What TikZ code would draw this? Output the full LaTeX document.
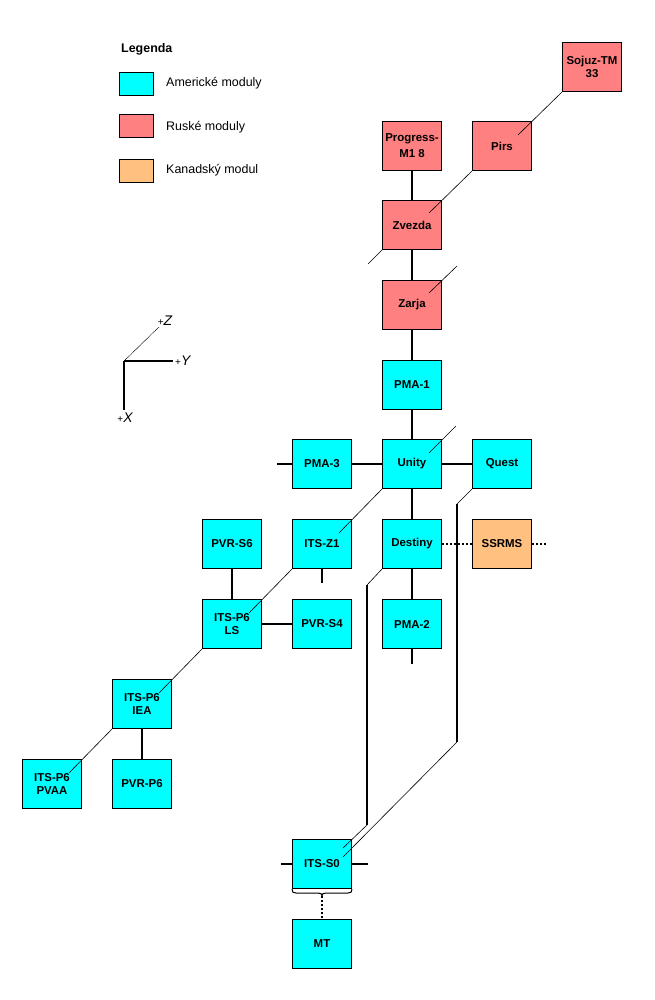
\documentclass[tikz,border=0pt]{standalone}
\usepackage{fontspec}
\setmainfont{Liberation Sans}
\usetikzlibrary{calc}
\definecolor{amer}{HTML}{00FFFF}
\definecolor{rus}{HTML}{FF8080}
\definecolor{kan}{HTML}{FFC080}
\tikzset{
  mod/.style={draw=black, line width=1.3bp, minimum width=58.7bp, minimum height=48.7bp,
    inner sep=0pt, align=center, font=\bfseries\fontsize{11.5}{13.3}\selectfont},
  am/.style={mod, fill=amer},
  ru/.style={mod, fill=rus},
  ka/.style={mod, fill=kan},
  link/.style={line width=1.3bp},
  diag/.style={line width=0.6bp},
  dots/.style={line width=1.3bp, dash pattern=on 2bp off 2bp},
  brace/.style={line width=1bp},
  legbox/.style={draw=black, line width=1.3bp, minimum width=33.7bp, minimum height=22.7bp, inner sep=0pt},
  legtxt/.style={anchor=west, inner sep=0pt, font=\fontsize{12.5}{14}\selectfont},
  axlab/.style={inner sep=0pt, font=\fontsize{14}{16}\selectfont\itshape}
}
\newcommand{\plussign}{{\upshape\fontsize{10}{11}\selectfont+}}
\begin{document}
\begin{tikzpicture}[x=1bp,y=-1bp]
\useasboundingbox (0,0) rectangle (655,1000);

% legend
\node[legtxt, font=\bfseries\fontsize{12.5}{14}\selectfont] (legt) at (121,49) {Legenda};
\node[legbox, fill=amer] (legA) at (136.5,84) {};
\node[legbox, fill=rus] (legR) at (136.5,126) {};
\node[legbox, fill=kan] (legK) at (136.5,171) {};
\node[legtxt] (legAt) at (166,83) {Americké moduly};
\node[legtxt] (legRt) at (166,127) {Ruské moduly};
\node[legtxt] (legKt) at (166,170) {Kanadský modul};

% axes
\coordinate (o) at (124,361);
\coordinate (ay) at (173,361);
\coordinate (ax) at (124,410);
\coordinate (az) at (159,327);
\draw[link] (o) -- (ay);
\draw[link] (o) -- (ax);
\draw[diag, dash pattern=on 1bp off 0.6bp] (o) -- (az);
\node[axlab, anchor=west] (ly) at (175,361) {\plussign Y};
\node[axlab] (lx) at (125,418) {\plussign X};
\node[axlab] (lz) at (165,321) {\plussign Z};

% modules
\node[ru] (sojuz) at (592,67) {Sojuz-TM\\33};
\node[ru] (prog) at (412,146) {Progress-\\[2.7bp]M1 8};
\node[ru] (pirs) at (502,146) {Pirs};
\node[ru] (zvezda) at (412,225) {Zvezda};
\node[ru] (zarja) at (412,305) {Zarja};
\node[am] (pma1) at (412,385) {PMA-1};
\node[am] (pma3) at (322,464) {PMA-3};
\node[am] (unity) at (412,464) {Unity};
\node[am] (quest) at (502,464) {Quest};
\node[am] (pvrs6) at (232,544) {PVR-S6};
\node[am] (itsz1) at (322,544) {ITS-Z1};
\node[am] (destiny) at (412,544) {Destiny};
\node[ka] (ssrms) at (502,544) {SSRMS};
\node[am] (lsp6) at (232,624) {ITS-P6\\LS};
\node[am] (pvrs4) at (322,624) {PVR-S4};
\node[am] (pma2) at (412,624) {PMA-2};
\node[am] (iea) at (142,704) {ITS-P6\\IEA};
\node[am] (pvaa) at (52,784) {ITS-P6\\PVAA};
\node[am] (pvrp6) at (142,784) {PVR-P6};
\node[am] (its0) at (322,864) {ITS-S0};
\node[am] (mt) at (322,944) {MT};

% vertical / horizontal connectors
\draw[link] (prog.south) -- (zvezda.north);
\draw[link] (zvezda.south) -- (zarja.north);
\draw[link] (zarja.south) -- (pma1.north);
\draw[link] (pma1.south) -- (unity.north);
\draw[link] (pma3.east) -- (unity.west);
\draw[link] (unity.east) -- (quest.west);
\draw[link] (unity.south) -- (destiny.north);
\draw[link] (destiny.south) -- (pma2.north);
\draw[link] (pvrs6.south) -- (lsp6.north);
\draw[link] (pvrs4.west) -- (lsp6.east);
\draw[link] (iea.south) -- (pvrp6.north);
\draw[dots] (destiny.east) -- (ssrms.west);

% stubs
\coordinate (s1) at (277,464);
\draw[link] (pma3.west) -- (s1);
\coordinate (s2) at (322,583);
\draw[link] (itsz1.south) -- (s2);
\coordinate (s3) at (412,664);
\draw[link] (pma2.south) -- (s3);
\coordinate (s4) at (281,864);
\draw[link] (its0.west) -- (s4);
\coordinate (s5) at (368,864);
\draw[link] (its0.east) -- (s5);
\coordinate (s6) at (547,544);
\draw[dots] (ssrms.east) -- (s6);

% diagonal connectors (into the next module)
\draw[diag] (sojuz.south west) -- ($(pirs.north east)+(-14,14)$);
\draw[diag] (pirs.south west) -- ($(zvezda.north east)+(-13,13)$);
\draw[diag] (zvezda.south west) -- ++(-14,14);
\draw[diag] ($(zarja.north east)+(15,-14)$) -- ($(zarja.north east)+(-13,13)$);
\draw[diag] ($(unity.north east)+(14,-13)$) -- ($(unity.north east)+(-13,14)$);
\draw[diag] (unity.south west) -- ($(itsz1.north east)+(-13,14)$);
\draw[diag] (itsz1.south west) -- ($(lsp6.north east)+(-13,14)$);
\draw[diag] (lsp6.south west) -- ($(iea.north east)+(-13,14)$);
\draw[diag] (iea.south west) -- ($(pvaa.north east)+(-13,14)$);

% long lines to ITS-S0
\coordinate (q1) at (457,504);
\coordinate (q2) at (457,742);
\coordinate (q3) at (343,857);
\draw[diag] (quest.south west) -- (q1);
\draw[link] (q1) -- (q2);
\draw[diag] (q2) -- (q3);
\coordinate (d1) at (367,585);
\coordinate (d2) at (367,825);
\coordinate (d3) at (343,848);
\draw[diag] (destiny.south west) -- (d1);
\draw[link] (d1) -- (d2);
\draw[diag] (d2) -- (d3);

% brace under ITS-S0 and link to MT
\path (its0.south) ++(0,7) coordinate (brtip);
\draw[brace] (its0.south west) .. controls ($(its0.south west)+(0,3)$) and ($(its0.south west)+(1,4)$) .. ($(its0.south west)+(4,4)$)
  -- ($(brtip)+(-4,-3)$) .. controls ($(brtip)+(-1,-3)$) and ($(brtip)+(0,-2)$) .. (brtip)
  .. controls ($(brtip)+(0,-2)$) and ($(brtip)+(1,-3)$) .. ($(brtip)+(4,-3)$)
  -- ($(its0.south east)+(-4,4)$) .. controls ($(its0.south east)+(-1,4)$) and ($(its0.south east)+(0,3)$) .. (its0.south east);
\draw[dots] (brtip) -- (mt.north);
\end{tikzpicture}
\end{document}
